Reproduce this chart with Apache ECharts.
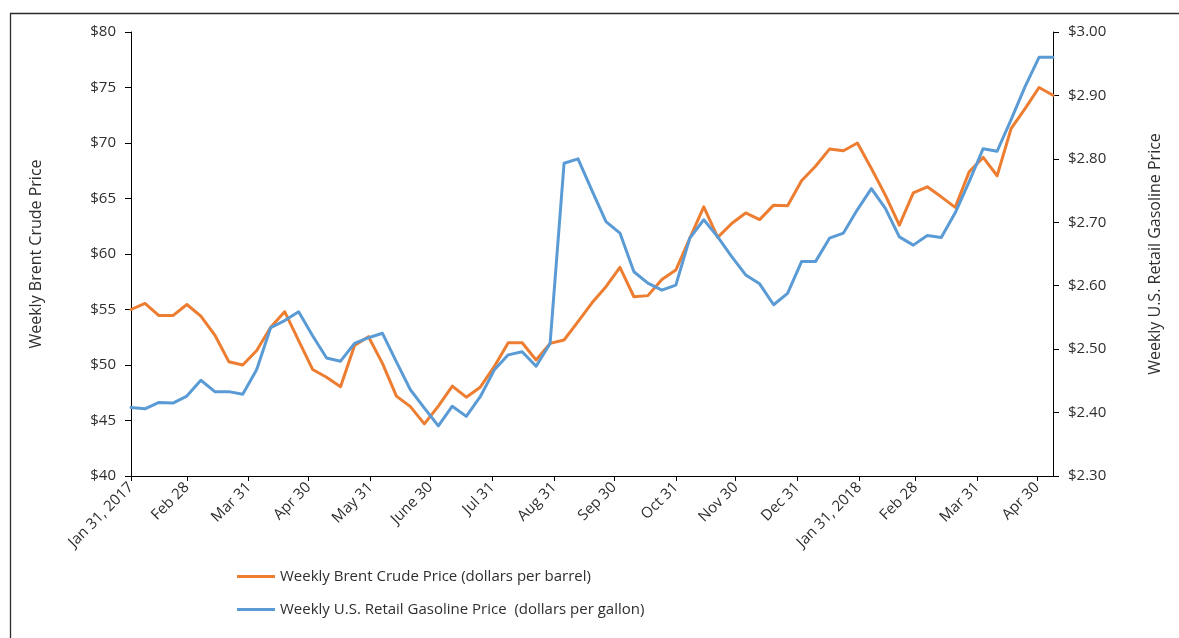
<!DOCTYPE html>
<html>
<head>
<meta charset="utf-8">
<script src="https://cdn.jsdelivr.net/npm/echarts@6/dist/echarts.min.js"></script>
<style>
html,body{margin:0;padding:0;background:#fff;}
#chart{width:1179px;height:638px;}
</style>
</head>
<body>
<div id="chart"></div>
<script>
// Weekly observation dates
const weekDates = [
  '2017-01-31','2017-02-07','2017-02-14','2017-02-21','2017-02-28','2017-03-07','2017-03-14','2017-03-21','2017-03-28',
  '2017-04-04','2017-04-11','2017-04-18','2017-04-25','2017-05-02','2017-05-09','2017-05-16','2017-05-23','2017-05-30',
  '2017-06-06','2017-06-13','2017-06-20','2017-06-27','2017-07-04','2017-07-11','2017-07-18','2017-07-25','2017-08-01',
  '2017-08-08','2017-08-15','2017-08-22','2017-08-29','2017-09-05','2017-09-12','2017-09-19','2017-09-26','2017-10-03',
  '2017-10-10','2017-10-17','2017-10-24','2017-10-31','2017-11-07','2017-11-14','2017-11-21','2017-11-28','2017-12-05',
  '2017-12-12','2017-12-19','2017-12-26','2018-01-02','2018-01-09','2018-01-16','2018-01-23','2018-01-30','2018-02-06',
  '2018-02-13','2018-02-20','2018-02-27','2018-03-06','2018-03-13','2018-03-20','2018-03-27','2018-04-03','2018-04-10',
  '2018-04-17','2018-04-24','2018-05-01','2018-05-08'
];
// Weekly Brent crude price (dollars per barrel)
const brentPrice = [
  55.0,55.55,54.45,54.45,55.45,54.4,52.7,50.3,50.0,
  51.3,53.4,54.8,52.2,49.6,48.9,48.05,51.75,52.55,
  50.15,47.2,46.25,44.7,46.3,48.1,47.1,48.0,49.85,
  52.0,52.0,50.45,51.95,52.25,53.9,55.6,57.05,58.8,
  56.15,56.25,57.7,58.55,61.4,64.25,61.5,62.75,63.7,
  63.1,64.4,64.35,66.6,67.9,69.45,69.3,70.0,67.7,
  65.3,62.6,65.5,66.05,65.15,64.2,67.4,68.7,67.05,
  71.3,73.1,75.0,74.3
];
// Weekly U.S. retail gasoline price (dollars per gallon)
const gasolinePrice = [
  2.408,2.406,2.416,2.415,2.426,2.451,2.433,2.433,2.429,
  2.468,2.534,2.545,2.559,2.521,2.486,2.481,2.509,2.518,
  2.525,2.480,2.436,2.407,2.379,2.410,2.394,2.425,2.467,
  2.491,2.496,2.473,2.509,2.793,2.800,2.750,2.701,2.683,
  2.622,2.604,2.593,2.601,2.675,2.704,2.677,2.646,2.617,
  2.603,2.570,2.588,2.638,2.638,2.675,2.683,2.720,2.753,
  2.722,2.677,2.664,2.679,2.676,2.715,2.764,2.816,2.812,
  2.862,2.914,2.960,2.960
];
// X-axis tick dates and labels
const tickDates = ['2017-01-31','2017-02-28','2017-03-31','2017-04-30','2017-05-31','2017-06-30','2017-07-31','2017-08-31',
  '2017-09-30','2017-10-31','2017-11-30','2017-12-31','2018-01-31','2018-02-28','2018-03-31','2018-04-30'];
const tickLabels = ['Jan 31, 2017','Feb 28','Mar 31','Apr 30','May 31','June 30','Jul 31','Aug 31',
  'Sep 30','Oct 31','Nov 30','Dec 31','Jan 31, 2018','Feb 28','Mar 31','Apr 30'];

const seriesNames = ['Weekly Brent Crude Price (dollars per barrel)', 'Weekly U.S. Retail Gasoline Price  (dollars per gallon)'];

// convert a date string to a day number counted from the first observation
function dayNum(s) {
  const p = s.split('-').map(Number);
  const base = weekDates[0].split('-').map(Number);
  return Math.round((Date.UTC(p[0], p[1] - 1, p[2]) - Date.UTC(base[0], base[1] - 1, base[2])) / 86400000);
}
const tickDays = tickDates.map(dayNum);
const labelMap = {};
tickDays.forEach((d, i) => { labelMap[d] = tickLabels[i]; });

const FONT = 'Open Sans';
const TXT = '#2e2e2e';

const chart = echarts.init(document.getElementById('chart'), null, {renderer: 'canvas'});
chart.setOption({
  animation: false,
  backgroundColor: '#ffffff',
  textStyle: {fontFamily: FONT},
  graphic: [{
    type: 'rect', left: 8, top: 11, silent: true,
    shape: {width: 1300, height: 800},
    style: {fill: 'none', stroke: '#2b2b2b', lineWidth: 1.3}
  }],
  grid: {left: 131, right: 126, top: 32, bottom: 162, containLabel: false},
  legend: {
    orient: 'vertical', left: 237, top: 567, padding: 0, itemWidth: 38, itemHeight: 3, itemGap: 14,
    icon: 'rect',
    textStyle: {fontFamily: FONT, fontSize: 15, color: TXT, lineHeight: 19},
    data: seriesNames
  },
  xAxis: {
    type: 'value',
    min: dayNum(weekDates[0]), max: dayNum(weekDates[weekDates.length - 1]),
    axisLine: {show: true, lineStyle: {color: '#000', width: 1}},
    axisTick: {show: true, length: 5, lineStyle: {color: '#000'}, customValues: tickDays},
    splitLine: {show: false},
    axisLabel: {
      customValues: tickDays,
      rotate: 45, margin: 9, fontSize: 15, color: TXT, fontFamily: FONT,
      formatter: function (v) { return labelMap[Math.round(v)] || ''; }
    }
  },
  yAxis: [{
    type: 'value', min: 40, max: 80, interval: 5, position: 'left',
    name: 'Weekly Brent Crude Price', nameLocation: 'middle', nameGap: 87,
    nameTextStyle: {fontSize: 16, color: TXT, fontFamily: FONT},
    axisLine: {show: true, lineStyle: {color: '#000', width: 1}},
    axisTick: {show: true, length: 6, lineStyle: {color: '#000'}},
    splitLine: {show: false},
    axisLabel: {margin: 15, fontSize: 15, color: TXT, fontFamily: FONT, formatter: v => '$' + v}
  }, {
    type: 'value', min: 2.3, max: 3.0, interval: 0.1, position: 'right',
    name: 'Weekly U.S. Retail Gasoline Price', nameLocation: 'middle', nameGap: 94, nameRotate: 90,
    nameTextStyle: {fontSize: 16, color: TXT, fontFamily: FONT},
    axisLine: {show: true, lineStyle: {color: '#000', width: 1}},
    axisTick: {show: true, length: 6, lineStyle: {color: '#000'}},
    splitLine: {show: false},
    axisLabel: {margin: 15, fontSize: 15, color: TXT, fontFamily: FONT, formatter: v => '$' + v.toFixed(2)}
  }],
  series: [{
    name: seriesNames[0], type: 'line', yAxisIndex: 0, showSymbol: false, symbol: 'none',
    color: '#ED7D31',
    lineStyle: {width: 3, color: '#ED7D31', join: 'round', cap: 'round'},
    data: weekDates.map((d, i) => [dayNum(d), brentPrice[i]])
  }, {
    name: seriesNames[1], type: 'line', yAxisIndex: 1, showSymbol: false, symbol: 'none',
    color: '#5B9BD5',
    lineStyle: {width: 3, color: '#5B9BD5', join: 'round', cap: 'round'},
    data: weekDates.map((d, i) => [dayNum(d), gasolinePrice[i]])
  }]
});
</script>
</body>
</html>
